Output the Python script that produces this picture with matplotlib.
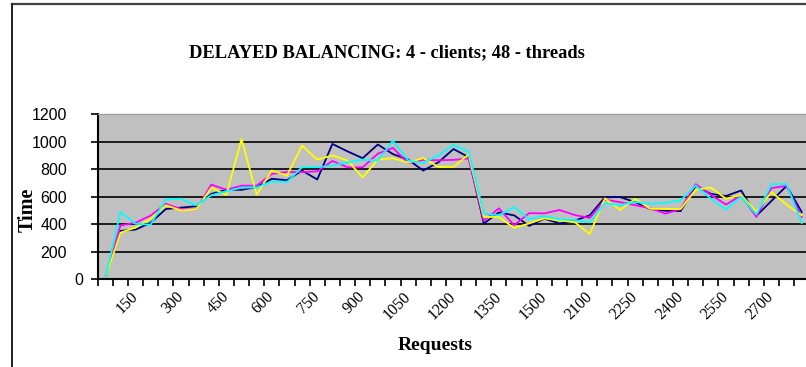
import matplotlib
matplotlib.use("Agg")
import matplotlib.pyplot as plt
import matplotlib.transforms as mtransforms
from matplotlib.lines import Line2D

# ──────────────────────────────────────────
# DATA
# ──────────────────────────────────────────
requests = [50 * (i + 1) for i in range(30)] + [2000 + 50 * i for i in range(17)]

navy = [0, 350, 360, 410, 510, 520, 530, 620, 650, 650, 670, 730, 720, 790, 725,
        984, 930, 880, 980, 910, 870, 790, 850, 947, 888, 404, 485, 464, 387, 440,
        405, 425, 464, 595, 597, 560, 510, 497, 495, 678, 620, 605, 645, 460, 569,
        678, 488]
magenta = [0, 390, 410, 462, 548, 510, 503, 688, 650, 680, 680, 766, 779, 779, 784,
           860, 814, 814, 913, 955, 845, 868, 865, 868, 878, 425, 515, 392, 480, 478,
           503, 466, 445, 578, 560, 538, 515, 476, 510, 691, 612, 542, 610, 452, 663,
           678, 452]
yellow = [0, 337, 375, 440, 537, 500, 505, 665, 612, 1020, 614, 790, 754, 972, 870,
          900, 863, 740, 870, 880, 848, 881, 817, 817, 907, 452, 452, 372, 405, 442,
          426, 415, 328, 588, 503, 583, 512, 510, 510, 651, 666, 585, 612, 490, 633,
          542, 464]
cyan = [0, 488, 402, 396, 580, 585, 537, 610, 640, 665, 667, 710, 706, 815, 815,
        826, 850, 870, 863, 1008, 863, 845, 900, 978, 928, 476, 464, 524, 437, 458,
        434, 430, 413, 552, 538, 561, 548, 555, 573, 681, 585, 506, 600, 470, 691,
        691, 407]

series = [navy, magenta, yellow, cyan]
colors = ['#000080', '#FF00FF', '#FFFF00', '#00FFFF']
y_ticks = [0, 200, 400, 600, 800, 1000, 1200]

# ──────────────────────────────────────────
# PLOT
# ──────────────────────────────────────────
W, H = 806, 367
fig = plt.figure(figsize=(W / 100, H / 100), dpi=100)
fig.patch.set_facecolor('white')

# chart border (only top and left visible in the crop)
fig.add_artist(Line2D([12 / W, 1], [1 - 4 / H, 1 - 4 / H], color='#404040', lw=1.6))
fig.add_artist(Line2D([12 / W, 12 / W], [0, 1 - 4 / H], color='#202020', lw=1.4))

ax = fig.add_axes([97.7 / W, 88 / H, 711.6 / W, 164.7 / H])
ax.set_facecolor('#C0C0C0')

idx = list(range(len(requests)))
for s, c in zip(series, colors):
    ax.plot(idx, s, color=c, lw=1.3)

for v in y_ticks[1:-1]:
    ax.axhline(v, color='black', lw=1.2, zorder=1)

ax.set_xlim(-0.5, len(requests) - 0.5)
ax.set_ylim(0, 1200)

ax.set_yticks(y_ticks)
ax.set_yticklabels([str(v) for v in y_ticks], family='Liberation Sans', fontsize=11.5)
ax.tick_params(axis='y', direction='out', length=5, width=1.2, pad=17)
# the "0" label sits further right in the original
zero_lab = ax.get_yticklabels()[0]
zero_lab.set_transform(zero_lab.get_transform() +
                       mtransforms.ScaledTranslation(16 / 100, 0, fig.dpi_scale_trans))

lab_idx = idx[2::3]
ax.set_xticks(lab_idx)
ax.set_xticklabels([str(requests[i]) for i in lab_idx], family='Liberation Serif',
                   fontsize=11.5, rotation=45, ha='right', va='center',
                   rotation_mode='anchor')
ax.tick_params(axis='x', which='major', length=0, pad=11)
ax.set_xticks([i - 0.5 for i in range(len(requests) + 1)], minor=True)
ax.tick_params(axis='x', which='minor', direction='out', length=5, width=1.2)

for side in ['left', 'bottom']:
    ax.spines[side].set_linewidth(1.5)
    ax.spines[side].set_color('black')
ax.spines['top'].set_color('#A0A0A0')
ax.spines['top'].set_linewidth(1.0)
ax.spines['right'].set_visible(False)

fig.text(387 / W, 1 - 53 / H, "DELAYED BALANCING: 4 - clients; 48 - threads",
         family='Liberation Serif', weight='bold', fontsize=13.3,
         ha='center', va='center')
fig.text(435 / W, 1 - 345 / H, "Requests", family='Liberation Serif',
         weight='bold', fontsize=14, ha='center', va='center')
fig.text(28 / W, 1 - 210 / H, "Time", family='Liberation Serif', weight='bold',
         fontsize=14.5, rotation=90, ha='center', va='center')

fig.savefig("out.png", dpi=100)
